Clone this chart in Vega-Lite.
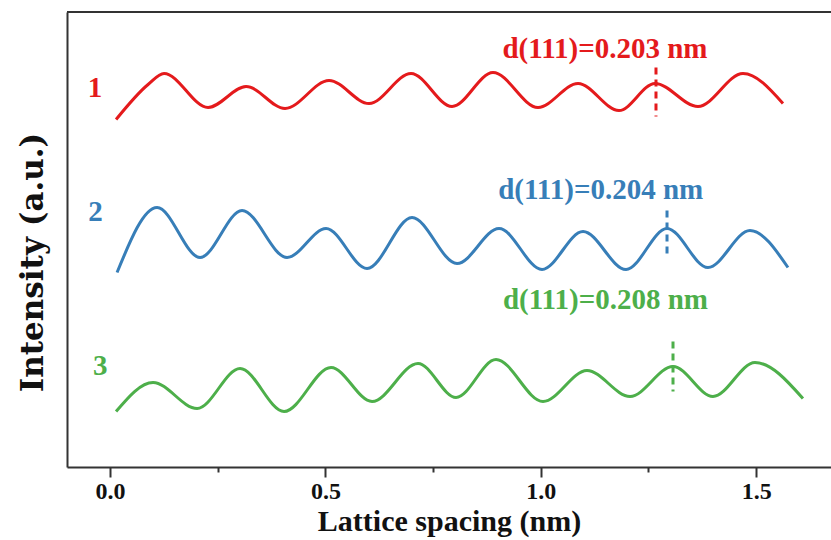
{
  "$schema": "https://vega.github.io/schema/vega-lite/v6.json",
  "autosize": {"type": "none"},
  "padding": {"left": 67, "top": 12, "right": 0, "bottom": 73},
  "width": 764,
  "height": 455,
  "background": "white",
  "config": {
    "view": {"stroke": null},
    "axis": {
      "grid": false,
      "labelFont": "Liberation Serif",
      "labelFontWeight": "bold",
      "labelColor": "#111",
      "titleFont": "Liberation Serif",
      "titleFontWeight": "bold",
      "titleColor": "#111",
      "domainColor": "#333",
      "tickColor": "#333",
      "domainWidth": 2,
      "tickWidth": 2
    }
  },
  "datasets": {
    "curves": [
      {"series": "1", "x": 0.0139, "y": 347.5},
      {"series": "1", "x": 0.0882, "y": 382.5},
      {"series": "1", "x": 0.1253, "y": 393.5},
      {"series": "1", "x": 0.2275, "y": 359.5},
      {"series": "1", "x": 0.3157, "y": 380.5},
      {"series": "1", "x": 0.4062, "y": 358.5},
      {"series": "1", "x": 0.5084, "y": 386.5},
      {"series": "1", "x": 0.6012, "y": 363.5},
      {"series": "1", "x": 0.6987, "y": 393.5},
      {"series": "1", "x": 0.7939, "y": 360.5},
      {"series": "1", "x": 0.8890, "y": 394.5},
      {"series": "1", "x": 0.9935, "y": 359.5},
      {"series": "1", "x": 1.0864, "y": 383.5},
      {"series": "1", "x": 1.1815, "y": 356.5},
      {"series": "1", "x": 1.2651, "y": 383.5},
      {"series": "1", "x": 1.3649, "y": 360.5},
      {"series": "1", "x": 1.4694, "y": 393.5},
      {"series": "1", "x": 1.5622, "y": 363.5},
      {"series": "2", "x": 0.0162, "y": 194.5},
      {"series": "2", "x": 0.1091, "y": 259.5},
      {"series": "2", "x": 0.2089, "y": 209.5},
      {"series": "2", "x": 0.3064, "y": 256.5},
      {"series": "2", "x": 0.4109, "y": 209.5},
      {"series": "2", "x": 0.5014, "y": 238.5},
      {"series": "2", "x": 0.5966, "y": 198.5},
      {"series": "2", "x": 0.7010, "y": 249.5},
      {"series": "2", "x": 0.8055, "y": 203.5},
      {"series": "2", "x": 0.9030, "y": 238.5},
      {"series": "2", "x": 1.0028, "y": 197.5},
      {"series": "2", "x": 1.0980, "y": 235.5},
      {"series": "2", "x": 1.1978, "y": 197.5},
      {"series": "2", "x": 1.2930, "y": 238.5},
      {"series": "2", "x": 1.3881, "y": 199.5},
      {"series": "2", "x": 1.4856, "y": 236.5},
      {"series": "2", "x": 1.5738, "y": 199.5},
      {"series": "3", "x": 0.0139, "y": 55.5},
      {"series": "3", "x": 0.0998, "y": 84.5},
      {"series": "3", "x": 0.2020, "y": 58.5},
      {"series": "3", "x": 0.3018, "y": 98.5},
      {"series": "3", "x": 0.4039, "y": 55.5},
      {"series": "3", "x": 0.5130, "y": 99.5},
      {"series": "3", "x": 0.6082, "y": 65.5},
      {"series": "3", "x": 0.7149, "y": 103.5},
      {"series": "3", "x": 0.8032, "y": 69.5},
      {"series": "3", "x": 0.8960, "y": 107.5},
      {"series": "3", "x": 1.0051, "y": 65.5},
      {"series": "3", "x": 1.1072, "y": 96.5},
      {"series": "3", "x": 1.2071, "y": 70.5},
      {"series": "3", "x": 1.3069, "y": 100.5},
      {"series": "3", "x": 1.3997, "y": 70.5},
      {"series": "3", "x": 1.4972, "y": 104.5},
      {"series": "3", "x": 1.6086, "y": 68.5}
    ],
    "dashes": [
      {"series": "1", "x": 1.2674, "y": 399.5, "y2": 350.5},
      {"series": "2", "x": 1.2930, "y": 256.5, "y2": 208.5},
      {"series": "3", "x": 1.3069, "y": 125.5, "y2": 75.5}
    ],
    "nums": [
      {"series": "1", "label": "1", "x": -0.035, "y": 379.5},
      {"series": "2", "label": "2", "x": -0.034, "y": 255.5},
      {"series": "3", "label": "3", "x": -0.023, "y": 101.5}
    ],
    "dlabels": [
      {"series": "1", "label": "d(111)=0.203 nm", "x": 1.149, "y": 409.5},
      {"series": "2", "label": "d(111)=0.204 nm", "x": 1.139, "y": 268.5},
      {"series": "3", "label": "d(111)=0.208 nm", "x": 1.150, "y": 158.5}
    ]
  },
  "encoding": {
    "x": {
      "field": "x", "type": "quantitative",
      "scale": {"domain": [-0.1, 1.6737], "nice": false, "zero": false},
      "axis": {
        "orient": "bottom",
        "values": [0, 0.25, 0.5, 0.75, 1.0, 1.25, 1.5],
        "labelExpr": "abs(datum.value * 2 - round(datum.value * 2)) < 0.01 ? format(datum.value, '.1f') : ''",
        "tickSize": {"condition": {"test": "abs(datum.value * 2 - round(datum.value * 2)) < 0.01", "value": 10}, "value": 5},
        "labelPadding": 2,
        "labelFontSize": 24,
        "title": "Lattice spacing (nm)",
        "titleFontSize": 30,
        "titleBaseline": "alphabetic",
        "titleY": 63.5
      }
    },
    "y": {
      "field": "y", "type": "quantitative",
      "scale": {"domain": [0, 455], "nice": false, "zero": false},
      "axis": {
        "ticks": false,
        "labels": false,
        "domain": true,
        "title": "Intensity (a.u.)",
        "titleFont": "DejaVu Serif",
        "titleFontSize": 31,
        "titleAngle": -90,
        "titleAlign": "center",
        "titleBaseline": "middle",
        "titleX": -34,
        "titleY": 250
      }
    },
    "color": {
      "field": "series", "type": "nominal",
      "scale": {"domain": ["1", "2", "3"], "range": ["#e41a1c", "#377eb8", "#4daf4a"]},
      "legend": null
    }
  },
  "layer": [
    {
      "data": {"name": "curves"},
      "mark": {"type": "line", "interpolate": "monotone", "strokeWidth": 3}
    },
    {
      "data": {"name": "dashes"},
      "mark": {"type": "rule", "strokeWidth": 3, "strokeDash": [7, 5]},
      "encoding": {
        "y2": {"field": "y2"}
      }
    },
    {
      "data": {"name": "nums"},
      "mark": {"type": "text", "font": "Liberation Serif", "fontWeight": "bold", "fontSize": 29, "align": "center", "baseline": "middle"},
      "encoding": {"text": {"field": "label"}}
    },
    {
      "data": {"name": "dlabels"},
      "mark": {"type": "text", "font": "Liberation Serif", "fontWeight": "bold", "fontSize": 29, "align": "center", "baseline": "alphabetic"},
      "encoding": {"text": {"field": "label"}}
    },
    {
      "data": {"values": [{"top": 455}]},
      "mark": {"type": "rule", "color": "#333", "strokeWidth": 2},
      "encoding": {
        "x": null,
        "color": null,
        "y": {"field": "top", "type": "quantitative"}
      }
    }
  ]
}
